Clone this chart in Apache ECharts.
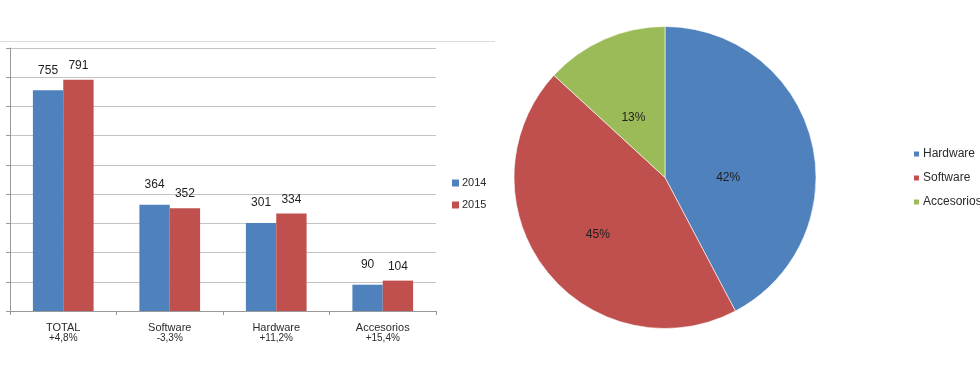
<!DOCTYPE html>
<html>
<head>
<meta charset="utf-8">
<script src="https://cdn.jsdelivr.net/npm/echarts@6/dist/echarts.min.js"></script>
<style>html,body{margin:0;padding:0;background:#fff;}#c{width:980px;height:380px;}</style>
</head>
<body>
<div id="c"></div>
<script>
const categories = ['TOTAL', 'Software', 'Hardware', 'Accesorios'];
const changes = ['+4,8%', '-3,3%', '+11,2%', '+15,4%'];
const values2014 = [755, 364, 301, 90];
const values2015 = [791, 352, 334, 104];
const barSeriesNames = ['2014', '2015'];
const pieNames = ['Hardware', 'Software', 'Accesorios'];
const pieValues = [334, 352, 104];
const yMax = 900;
const yInterval = 100;

// styling (not data)
const BLUE = '#4F81BD', RED = '#C0504D', GREEN = '#9BBB59';
const FONT = 'Liberation Sans';
const pieColors = [BLUE, RED, GREEN];
const pieLabelNudges = [[-13, 19], [-5, 9], [0, 12]];

const chart = echarts.init(document.getElementById('c'), null, {renderer: 'canvas'});
chart.setOption({
  animation: false,
  textStyle: {fontFamily: FONT},
  color: [BLUE, RED, GREEN],
  graphic: [{
    type: 'line', shape: {x1: 0, y1: 41.5, x2: 495, y2: 41.5},
    style: {stroke: '#dcdcdc', lineWidth: 1}, silent: true
  }],
  grid: {left: 10, top: 48, width: 426, height: 263, containLabel: false},
  legend: [{
    data: barSeriesNames,
    orient: 'vertical', left: 452, top: 177, padding: 0,
    itemWidth: 7, itemHeight: 7, itemGap: 10,
    icon: 'rect',
    textStyle: {fontFamily: FONT, fontSize: 11, lineHeight: 12, color: '#2a2a2a', padding: [0, 0, 0, -2]}
  }, {
    data: pieNames,
    orient: 'vertical', left: 912, top: 147, padding: 0,
    itemWidth: 7, itemHeight: 7, itemGap: 10,
    icon: 'rect',
    textStyle: {fontFamily: FONT, fontSize: 12, lineHeight: 14, color: '#2a2a2a', padding: [0, 0, 0, -2]}
  }],
  xAxis: {
    type: 'category',
    data: categories,
    axisLine: {lineStyle: {color: '#999'}},
    axisTick: {show: true, length: 4, lineStyle: {color: '#999'}},
    axisLabel: {
      margin: 11,
      formatter: function (v, i) { return '{a|' + v + '}\n{b|' + changes[i] + '}'; },
      rich: {
        a: {fontFamily: FONT, fontSize: 11, color: '#2a2a2a', lineHeight: 11},
        b: {fontFamily: FONT, fontSize: 10, color: '#2a2a2a', lineHeight: 10}
      }
    }
  },
  yAxis: {
    type: 'value', min: 0, max: yMax, interval: yInterval,
    axisLine: {show: true, lineStyle: {color: '#999'}},
    axisTick: {show: true, length: 4, lineStyle: {color: '#999'}},
    axisLabel: {show: false},
    splitLine: {lineStyle: {color: '#c4c4c4'}}
  },
  series: [{
    name: barSeriesNames[0], type: 'bar', data: values2014,
    barGap: '0%', barCategoryGap: '43%',
    itemStyle: {color: BLUE},
    label: {show: true, position: 'top', distance: 14, fontFamily: FONT, fontSize: 12, color: '#1e1e1e'}
  }, {
    name: barSeriesNames[1], type: 'bar', data: values2015,
    barGap: '0%', barCategoryGap: '43%',
    itemStyle: {color: RED},
    label: {show: true, position: 'top', distance: 8, fontFamily: FONT, fontSize: 12, color: '#1e1e1e'}
  }, {
    name: 'Ventas', type: 'pie',
    center: [665, 177.5], radius: 151,
    startAngle: 90, clockwise: true,
    percentPrecision: 0,
    data: pieNames.map((n, i) => ({
      name: n, value: pieValues[i],
      itemStyle: {color: pieColors[i]},
      label: {offset: pieLabelNudges[i]}
    })),
    itemStyle: {borderColor: '#fff', borderWidth: 0.6},
    label: {show: true, position: 'inside', formatter: '{d}%', fontFamily: FONT, fontSize: 12, color: '#1e1e1e'},
    labelLine: {show: false},
    emphasis: {disabled: true}
  }]
});
</script>
</body>
</html>
